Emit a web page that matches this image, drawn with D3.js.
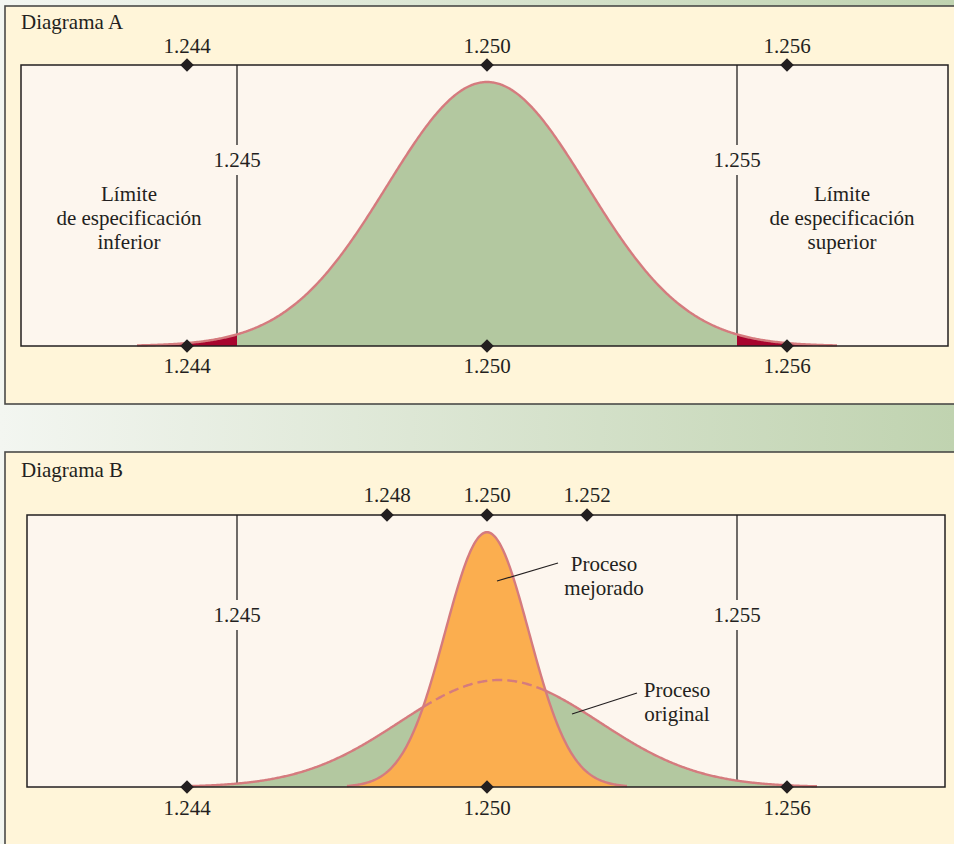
<!DOCTYPE html>
<html>
<head>
<meta charset="utf-8">
<script src="https://cdn.jsdelivr.net/npm/d3@7"></script>
<style>
  html, body { margin: 0; padding: 0; background: #fff; }
  svg { display: block; }
  svg text, svg tspan { font-family: 'Liberation Serif' !important; }
</style>
</head>
<body>
<div id="graph"></div>
<script>
// --- datos ---
const ticksSuperiorA = [1.244, 1.250, 1.256];
const ticksSuperiorB = [1.248, 1.250, 1.252];
const ticksInferior = [1.244, 1.250, 1.256];
const limitesEspec = [1.245, 1.255];

// procesos: media, desviacion, rango dibujado
const procesoNombres = ["A", "original", "mejorado"];
const procesoMedias = [1.250, 1.25025, 1.250];
const procesoDesv = [0.002, 0.002, 0.00084];
const procesoRangos = [[1.243, 1.257], [1.2441, 1.2566], [1.2472, 1.2528]];

const W = 954, H = 844;
const colores = {
  verde: "#b3c8a0",
  rojo: "#a8042e",
  naranja: "#fbae4f",
  curva: "#d57b7e",
  caja: "#fdf6ee",
  panel: "#fff5d9",
  borde: "#231f20"
};

const svg = d3.select("#graph").append("svg")
  .attr("width", W).attr("height", H);

const defs = svg.append("defs");
const grad = defs.append("linearGradient").attr("id", "fondo")
  .attr("x1", "0%").attr("x2", "100%").attr("y1", "0%").attr("y2", "0%");
grad.append("stop").attr("offset", "0%").attr("stop-color", "#f3f6f1");
grad.append("stop").attr("offset", "100%").attr("stop-color", "#c0d3b0");

svg.append("rect").attr("width", W).attr("height", H).attr("fill", "url(#fondo)");

// paneles
svg.append("rect").attr("x", 5).attr("y", 6).attr("width", 960).attr("height", 398)
  .attr("fill", colores.panel).attr("stroke", "#4a4a48").attr("stroke-width", 1.6);
svg.append("rect").attr("x", 5).attr("y", 452).attr("width", 960).attr("height", 420)
  .attr("fill", colores.panel).attr("stroke", "#4a4a48").attr("stroke-width", 1.6);

const x = d3.scaleLinear().domain([1.244, 1.256]).range([187, 787]);

function pdf(v, m, s) {
  return Math.exp(-0.5 * ((v - m) / s) ** 2) / (s * Math.sqrt(2 * Math.PI));
}
function puntos(i) {
  const [a, b] = procesoRangos[i];
  const pts = d3.range(a, b, 0.00002).concat([b]);
  return pts.map(v => ({ x: v, y: pdf(v, procesoMedias[i], procesoDesv[i]) }));
}

function caja(g, x0, x1, top, bottom) {
  return g.append("rect").attr("x", x0).attr("y", top)
    .attr("width", x1 - x0).attr("height", bottom - top);
}

function txt(g) {
  return g.append("text")
    .attr("font-family", "Liberation Serif")
    .attr("font-size", 21)
    .attr("fill", colores.borde);
}

function diamantes(g, vals, yy) {
  g.selectAll(null).data(vals).enter().append("path")
    .attr("d", d3.symbol(d3.symbolSquare, 92))
    .attr("transform", d => `translate(${x(d)},${yy}) rotate(45)`)
    .attr("fill", colores.borde);
}

function etiquetas(g, vals, yy) {
  vals.forEach(d => {
    txt(g).attr("x", x(d)).attr("y", yy)
      .attr("text-anchor", "middle")
      .text(d3.format(".3f")(d));
  });
}

function lineasEspec(g, top, bottom, yEtiqueta) {
  g.selectAll(null).data(limitesEspec).enter().append("line")
    .attr("x1", d => x(d)).attr("x2", d => x(d))
    .attr("y1", top).attr("y2", bottom)
    .attr("stroke", colores.borde).attr("stroke-width", 1.3);
  g.selectAll(null).data(limitesEspec).enter().append("rect")
    .attr("x", d => x(d) - 25).attr("y", yEtiqueta - 15)
    .attr("width", 50).attr("height", 30).attr("fill", colores.caja);
  limitesEspec.forEach(d => {
    txt(g).attr("x", x(d)).attr("y", yEtiqueta + 7)
      .attr("text-anchor", "middle")
      .text(d3.format(".3f")(d));
  });
}

function texto(g, cx, y0, lineas) {
  const t = txt(g).attr("text-anchor", "middle");
  lineas.forEach((l, i) => {
    t.append("tspan").attr("x", cx).attr("y", y0 + i * 24).text(l);
  });
}

// ---------- Diagrama A ----------
(function () {
  const g = svg.append("g");
  const top = 65, bottom = 346;
  const y = d3.scaleLinear().domain([0, pdf(1.25, 1.25, 0.002)]).range([bottom, 82]);

  txt(g).attr("x", 21).attr("y", 29).text("Diagrama A");

  caja(g, 21, 948, top, bottom).attr("fill", colores.caja);
  lineasEspec(g, top, bottom, 160);

  texto(g, 129, 201, ["Límite", "de especificación", "inferior"]);
  texto(g, 842, 201, ["Límite", "de especificación", "superior"]);

  const pts = puntos(0);
  const area = d3.area().x(d => x(d.x)).y0(bottom).y1(d => y(d.y));
  const izq = pts.filter(d => d.x <= limitesEspec[0] + 1e-9);
  const der = pts.filter(d => d.x >= limitesEspec[1] - 1e-9);
  const cen = pts.filter(d => d.x >= limitesEspec[0] - 1e-9 && d.x <= limitesEspec[1] + 1e-9);
  g.append("path").datum(cen).attr("d", area).attr("fill", colores.verde);
  g.append("path").datum(izq).attr("d", area).attr("fill", colores.rojo);
  g.append("path").datum(der).attr("d", area).attr("fill", colores.rojo);

  g.append("path").datum(pts)
    .attr("d", d3.line().x(d => x(d.x)).y(d => y(d.y)))
    .attr("fill", "none").attr("stroke", colores.curva).attr("stroke-width", 2.4);

  caja(g, 21, 948, top, bottom).attr("fill", "none")
    .attr("stroke", colores.borde).attr("stroke-width", 1.5);

  diamantes(g, ticksSuperiorA, top);
  diamantes(g, ticksInferior, bottom);
  etiquetas(g, ticksSuperiorA, 53);
  etiquetas(g, ticksInferior, 373);
})();

// ---------- Diagrama B ----------
(function () {
  const g = svg.append("g");
  const top = 515, bottom = 787;
  const y = d3.scaleLinear().domain([0, pdf(1.25, 1.25, 0.002)]).range([bottom, 680]);

  txt(g).attr("x", 21).attr("y", 477).text("Diagrama B");

  caja(g, 27, 945, top, bottom).attr("fill", colores.caja);
  lineasEspec(g, top, bottom, 615);

  const area = d3.area().x(d => x(d.x)).y0(bottom).y1(d => y(d.y));
  const linea = d3.line().x(d => x(d.x)).y(d => y(d.y));

  const orig = puntos(1);
  const mej = puntos(2);

  g.append("path").datum(orig).attr("d", area).attr("fill", colores.verde);
  g.append("path").datum(mej).attr("d", area).attr("fill", colores.naranja);

  // tramos de la curva original: discontinua dentro del proceso mejorado
  const [a2, b2] = procesoRangos[2];
  const dentro = d => d.x > a2 && d.x < b2 &&
    pdf(d.x, procesoMedias[2], procesoDesv[2]) > d.y;
  const tramos = [];
  orig.forEach((d, i) => {
    const f = dentro(d);
    if (!tramos.length || tramos[tramos.length - 1].dash !== f) {
      const pts = i > 0 ? [orig[i - 1], d] : [d];
      tramos.push({ dash: f, pts });
    } else {
      tramos[tramos.length - 1].pts.push(d);
    }
  });
  g.selectAll(null).data(tramos).enter().append("path")
    .attr("d", d => linea(d.pts))
    .attr("fill", "none").attr("stroke", colores.curva).attr("stroke-width", 2.4)
    .attr("stroke-dasharray", d => d.dash ? "10 5" : null);

  g.append("path").datum(mej).attr("d", linea)
    .attr("fill", "none").attr("stroke", colores.curva).attr("stroke-width", 2.4);

  caja(g, 27, 945, top, bottom).attr("fill", "none")
    .attr("stroke", colores.borde).attr("stroke-width", 1.5);

  // llamadas
  g.append("line").attr("x1", 497).attr("y1", 581).attr("x2", 558).attr("y2", 563)
    .attr("stroke", colores.borde).attr("stroke-width", 1.2);
  texto(g, 604, 571, ["Proceso", "mejorado"]);
  g.append("line").attr("x1", 572).attr("y1", 714).attr("x2", 637).attr("y2", 693)
    .attr("stroke", colores.borde).attr("stroke-width", 1.2);
  texto(g, 677, 697, ["Proceso", "original"]);

  diamantes(g, ticksSuperiorB, top);
  diamantes(g, ticksInferior, bottom);
  etiquetas(g, ticksSuperiorB, 502);
  etiquetas(g, ticksInferior, 815);
})();
</script>
</body>
</html>
